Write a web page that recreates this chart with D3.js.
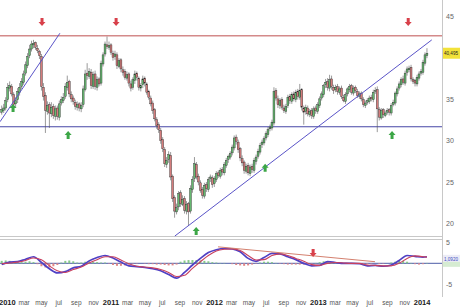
<!DOCTYPE html>
<html>
<head>
<meta charset="utf-8">
<script src="https://cdn.jsdelivr.net/npm/d3@7"></script>
<style>
body{margin:0;background:#fff}
svg{display:block}
text{font-family:"Liberation Sans",Arial,sans-serif}
</style>
</head>
<body>
<script>
var w = 460, h = 308;
var plotRight = 442;

// weekly candles, first one on monday 14 dec 2009
var firstWeek = new Date(2009, 11, 14);

var open = [33.4,33.6,33.9,34.9,36.3,36.5,35.5,34.4,34.9,35.8,
 36.5,37.0,38.1,39.0,40.2,41.0,41.5,41.8,41.1,40.7,
 40.1,36.4,35.4,33.5,34.3,33.2,34.1,32.9,33.9,32.8,
 34.5,34.8,35.3,36.4,37.1,35.5,35.1,34.6,34.0,34.4,
 33.8,34.3,36.1,38.1,37.7,38.2,36.5,38.0,36.4,37.4,
 36.9,39.2,40.4,41.5,41.2,41.5,40.5,40.1,40.3,38.9,
 39.7,38.5,38.3,37.5,38.0,36.8,36.4,37.2,38.1,37.5,
 36.3,36.7,37.5,36.8,35.9,35.1,34.5,33.7,32.5,31.9,
 31.2,30.1,28.9,27.1,27.7,28.2,25.7,23.1,21.4,22.0,
 23.7,22.3,23.0,21.5,22.4,21.5,24.1,25.4,27.1,25.7,
 24.9,24.1,23.3,24.7,24.1,25.4,25.5,24.8,25.3,26.1,
 25.7,26.5,26.1,27.0,27.7,28.0,28.5,29.1,30.4,29.8,
 29.0,27.8,27.4,26.3,27.0,26.0,26.9,26.4,27.5,28.1,
 28.6,29.5,29.7,30.3,30.7,31.4,31.5,32.1,36.0,35.0,
 34.2,34.9,33.9,33.5,34.2,35.3,34.7,35.6,34.9,35.9,
 35.2,36.1,33.9,33.5,33.9,33.1,33.6,32.9,33.9,33.5,
 34.2,35.1,35.5,36.7,37.1,36.3,37.4,36.4,36.1,36.5,
 35.8,36.3,35.2,34.7,35.6,36.1,36.6,35.7,36.4,35.9,
 35.3,35.7,34.9,34.2,34.6,34.7,35.2,34.9,35.9,36.1,
 33.7,32.7,33.7,33.0,33.4,33.7,33.3,34.3,34.5,35.6,
 36.3,36.7,37.4,36.9,38.2,38.5,38.8,37.3,37.2,36.8,
 37.5,38.1,38.2,39.3,40.2];

var high = [34.2,34.4,35.2,36.9,37.1,36.8,35.8,35.2,36.3,36.9,
 37.5,38.4,39.5,40.5,41.5,42.0,42.1,41.9,41.5,40.9,
 40.4,36.9,35.8,34.7,34.6,34.6,34.4,34.2,34.2,34.8,
 35.3,35.7,36.9,37.8,37.3,35.9,35.4,34.9,34.7,34.6,
 34.6,36.6,38.5,39.3,38.7,38.6,38.3,38.4,37.7,37.6,
 39.6,40.6,41.9,42.5,41.9,41.7,40.8,40.8,40.6,39.9,
 39.9,38.9,38.6,38.3,38.2,37.2,37.6,38.4,38.3,37.7,
 36.9,37.8,37.7,37.0,36.1,35.4,34.8,33.9,32.8,32.2,
 31.5,30.4,29.2,28.0,28.7,28.6,25.9,23.4,22.4,23.9,
 24.0,23.4,23.3,22.7,22.6,24.6,25.7,28.0,27.4,26.0,
 25.2,24.4,24.9,25.0,25.6,25.9,25.8,25.7,26.3,26.4,
 26.7,26.8,27.4,27.9,28.3,28.7,29.5,30.6,30.7,30.1,
 29.2,28.2,27.6,27.2,27.3,27.1,27.2,27.9,28.3,29.0,
 29.7,30.1,30.5,31.1,31.6,31.9,32.5,36.4,36.3,35.4,
 35.1,35.2,34.3,34.4,35.5,35.6,35.8,35.9,36.1,36.2,
 36.8,36.3,34.2,34.3,34.2,33.8,33.9,34.1,34.2,34.6,
 35.3,35.9,36.8,37.4,37.5,37.9,37.8,36.7,36.7,36.8,
 36.5,36.6,35.5,35.8,36.4,36.8,36.8,36.6,36.6,36.2,
 35.9,35.9,35.2,34.8,35.1,35.4,35.5,36.1,36.4,36.5,
 34.0,33.9,33.9,33.6,33.9,33.9,34.5,34.9,35.9,36.5,
 37.1,37.6,37.8,38.4,38.9,39.0,39.1,37.6,37.4,37.9,
 38.3,38.6,39.7,40.6,41.1];

var low = [33.1,33.3,33.6,34.6,35.9,35.3,34.0,34.0,34.5,35.4,
 36.2,36.7,37.8,38.7,39.9,40.7,41.1,40.9,40.5,39.8,
 36.0,34.8,30.9,33.1,31.5,32.8,32.6,32.4,32.5,32.4,
 34.2,34.5,35.0,36.0,35.2,34.6,34.3,33.7,33.6,33.5,
 33.4,34.0,35.9,37.3,37.4,36.2,36.2,36.1,36.0,36.5,
 36.6,38.9,40.1,41.0,40.9,40.3,39.6,39.7,38.6,38.7,
 38.2,37.8,37.3,37.2,36.5,35.9,36.1,36.8,37.2,36.0,
 35.9,36.3,36.5,35.5,34.9,34.1,33.2,32.3,31.4,30.9,
 29.6,28.6,26.8,26.7,27.3,25.2,22.6,20.7,21.1,21.6,
 22.0,22.1,21.2,21.1,19.7,21.2,23.7,25.0,25.3,24.6,
 23.7,23.0,23.0,23.8,23.8,25.0,24.3,24.4,25.0,25.5,
 25.4,25.8,25.8,26.7,27.3,27.7,28.2,28.8,29.5,28.5,
 27.5,26.9,26.0,26.0,25.8,25.7,26.1,26.1,27.1,27.8,
 28.3,29.1,29.4,30.0,30.4,31.1,31.2,31.8,34.8,33.9,
 33.8,33.7,33.3,33.2,33.9,34.4,34.4,34.7,34.6,34.9,
 34.9,33.6,31.9,33.1,32.9,32.8,32.6,32.6,33.2,33.2,
 33.9,34.8,35.2,36.3,36.0,35.9,36.1,35.6,35.8,35.5,
 35.5,35.0,34.6,34.4,35.3,35.8,35.5,35.4,35.7,35.1,
 35.0,34.7,34.0,33.9,34.3,34.4,34.7,34.6,35.6,31.0,
 32.4,32.5,32.7,32.8,33.1,33.0,33.0,34.1,34.2,35.3,
 36.0,36.4,36.7,36.6,37.8,38.2,37.1,36.8,36.5,36.5,
 37.2,37.8,37.9,39.0,39.9];

var close = [33.7,33.9,34.8,36.4,36.6,35.6,34.3,34.8,35.9,36.4,
 37.1,38.0,39.1,40.1,41.0,41.6,41.7,41.2,40.8,40.2,
 36.5,35.3,33.6,34.2,33.3,34.0,33.0,33.8,32.9,34.4,
 34.9,35.2,36.5,37.0,35.6,35.0,34.7,34.1,34.3,33.9,
 34.2,36.2,38.0,37.8,38.3,36.6,37.9,36.5,37.3,36.8,
 39.3,40.3,41.6,41.3,41.4,40.6,40.0,40.4,39.0,39.6,
 38.6,38.2,37.6,37.9,36.9,36.3,37.3,38.0,37.6,36.4,
 36.6,37.4,36.9,35.8,35.2,34.4,33.6,32.6,31.8,31.3,
 30.0,29.0,27.2,27.6,28.3,25.6,23.0,21.5,21.9,23.6,
 22.4,22.9,21.6,22.3,21.4,24.2,25.3,27.2,25.6,25.0,
 24.0,23.4,24.6,24.2,25.3,25.6,24.7,25.4,26.0,25.8,
 26.4,26.2,27.1,27.6,28.1,28.4,29.2,30.3,29.9,28.9,
 27.9,27.3,26.4,26.9,26.1,26.8,26.5,27.6,28.0,28.7,
 29.4,29.8,30.2,30.8,31.3,31.6,32.2,35.9,35.1,34.3,
 34.8,34.0,33.6,34.1,35.2,34.8,35.5,35.0,35.8,35.3,
 36.0,34.0,33.4,34.0,33.2,33.5,33.0,33.8,33.6,34.3,
 35.0,35.6,36.6,37.0,36.4,37.3,36.5,36.0,36.4,35.9,
 36.2,35.3,34.8,35.5,36.2,36.5,35.8,36.3,36.0,35.4,
 35.6,35.0,34.3,34.5,34.8,35.1,35.0,35.8,36.0,33.8,
 32.8,33.6,33.1,33.3,33.6,33.4,34.2,34.6,35.7,36.2,
 36.8,37.3,37.0,38.1,38.6,38.7,37.4,37.1,36.9,37.6,
 38.0,38.3,39.4,40.3,40.495];

// macd + signal read every 4th week (last point = last week)
var macdWeek = [0,4,8,12,16,20,24,28,32,36,40,44,48,52,56,60,64,68,72,76,80,84,88,92,96,
 100,104,108,112,116,120,124,128,132,136,140,144,148,152,156,160,164,168,172,176,180,184,188,
 192,196,200,204,208,212,214];
var macd = [-0.3,0.3,0.4,1.0,1.6,0.2,-1.3,-2.3,-2.0,-1.1,-0.7,0.6,1.4,1.9,1.3,0.3,-0.6,-0.8,-1.0,
 -1.3,-1.8,-2.7,-3.6,-2.2,-0.4,1.2,2.6,3.3,3.6,3.5,2.8,1.2,0.5,1.4,2.4,2.3,1.6,0.9,0.0,-0.6,
 -0.5,0.4,0.2,0.0,0.0,-0.1,-0.6,-0.5,-0.7,-0.4,0.7,1.9,1.7,1.5,1.6];
var signal = [-0.1,0.1,0.3,0.7,1.3,0.9,-0.6,-1.8,-2.2,-1.5,-0.9,0.1,0.9,1.6,1.6,0.8,-0.1,-0.7,-0.9,
 -1.1,-1.5,-2.2,-3.2,-2.9,-1.2,0.4,1.9,3.0,3.4,3.5,3.1,1.9,0.8,0.9,1.9,2.3,1.9,1.2,0.5,-0.3,
 -0.5,0.0,0.2,0.1,0.0,0.0,-0.4,-0.5,-0.6,-0.6,0.0,1.2,1.8,1.6,1.5];
// histogram every 2nd week
var hist = [0.6,0.7,0.6,0.4,0.3,0.3,0.4,0.5,0.3,-0.2,
 -0.7,-1.0,-1.0,-0.7,-0.4,0.2,0.6,0.7,0.5,0.2,
 0.2,0.4,0.5,0.4,0.3,0.2,0.2,-0.1,-0.4,-0.6,
 -0.6,-0.5,-0.3,-0.1,-0.1,0.0,-0.1,-0.2,-0.2,-0.3,
 -0.3,-0.4,-0.5,-0.5,-0.3,0.4,0.7,0.8,0.8,0.8,
 0.7,0.6,0.5,0.3,0.2,0.1,0.1,0.0,-0.2,-0.4,
 -0.5,-0.6,-0.5,-0.3,-0.1,0.2,0.4,0.4,0.3,0.1,
 -0.1,-0.2,-0.3,-0.3,-0.3,-0.3,-0.3,-0.2,-0.1,0.1,
 0.3,0.5,0.5,0.3,0.1,-0.1,-0.1,-0.1,0.0,0.0,
 -0.1,-0.2,-0.2,-0.1,0.0,-0.2,-0.1,0.0,0.2,0.4,
 0.6,0.6,0.4,0.1,-0.2,-0.3,-0.2,0.1];

var priceTicks = [20,25,30,35,45];   // 40 sits under the last price tag
var macdTicks = [-5,5];
var lastPriceLabel = "40,495";
var lastMacdLabel = "1,0920";
var lastMacd = 1.092;
var lastTickDate = new Date(2014,0,1);

var resistance = 42.6, support = 31.65;
var trendLines = [
  {d1:new Date(2009,11,8), v1:32.25, d2:new Date(2010,6,7), v2:42.9},
  {d1:new Date(2011,7,16), v1:18.5, d2:new Date(2014,1,6), v2:42.1}
];
var macdTrend = {d1:new Date(2012,0,15), v1:4.0, d2:new Date(2013,6,21), v2:0.4};
var sellArrows = [
  {d:new Date(2010,4,5), v:44.25},
  {d:new Date(2011,0,21), v:44.25},
  {d:new Date(2013,10,15), v:44.25}
];
var buyArrows = [
  {d:new Date(2010,0,23), v:33.9},
  {d:new Date(2010,7,5), v:30.65},
  {d:new Date(2011,9,30), v:19.1},
  {d:new Date(2012,5,29), v:26.7},
  {d:new Date(2013,8,19), v:30.65}
];
var macdArrows = [{d:new Date(2012,11,15), v:2.5}];

var weekDate = function(i){ return d3.timeDay.offset(firstWeek, 7*i); };

var x = d3.scaleTime()
  .domain([new Date(2009,11,8), new Date(2014,2,14)])
  .range([0, plotRight]);
var y = d3.scaleLinear().domain([18.5, 46.9]).range([236, 0]);
var ym = d3.scaleLinear().domain([-5, 5]).range([284, 242.7]);

var svg = d3.select("body").append("svg")
  .attr("width", w).attr("height", h);

// frame lines
svg.append("line").attr("x1",0).attr("x2",plotRight).attr("y1",236.5).attr("y2",236.5)
  .attr("stroke","#c8c8c8");
svg.append("line").attr("x1",0).attr("x2",plotRight).attr("y1",239.5).attr("y2",239.5)
  .attr("stroke","#c8c8c8");
svg.append("line").attr("x1",plotRight+0.5).attr("x2",plotRight+0.5).attr("y1",0).attr("y2",297)
  .attr("stroke","#c8c8c8");

// horizontal levels
svg.append("line").attr("x1",0).attr("x2",plotRight)
  .attr("y1",y(resistance)).attr("y2",y(resistance))
  .attr("stroke","#d48a8a").attr("stroke-width",1.6);
svg.append("line").attr("x1",0).attr("x2",plotRight)
  .attr("y1",y(support)).attr("y2",y(support))
  .attr("stroke","#4646a6").attr("stroke-width",1.1);

// candles
var idx = d3.range(close.length);
var cw = 1.9;
var candles = svg.append("g");
candles.selectAll("line").data(idx).enter().append("line")
  .attr("x1", function(i){ return x(weekDate(i)); })
  .attr("x2", function(i){ return x(weekDate(i)); })
  .attr("y1", function(i){ return y(high[i]); })
  .attr("y2", function(i){ return y(low[i]); })
  .attr("stroke", "#555").attr("stroke-width", 0.6);
candles.selectAll("rect").data(idx).enter().append("rect")
  .attr("x", function(i){ return x(weekDate(i)) - cw/2; })
  .attr("width", cw)
  .attr("y", function(i){ return y(Math.max(open[i], close[i])); })
  .attr("height", function(i){ return Math.max(0.8, Math.abs(y(open[i]) - y(close[i]))); })
  .attr("fill", function(i){ return close[i] >= open[i] ? "#66b870" : "#d47c7c"; })
  .attr("stroke", "#2a2a2a").attr("stroke-width", 0.4);

// trend lines
svg.selectAll(".trend").data(trendLines).enter().append("line")
  .attr("class","trend")
  .attr("x1", function(d){ return x(d.d1); })
  .attr("y1", function(d){ return y(d.v1); })
  .attr("x2", function(d){ return x(d.d2); })
  .attr("y2", function(d){ return y(d.v2); })
  .attr("stroke", "#5a54c8").attr("stroke-width", 1);

// arrows
function arrow(cx, cy, down){
  var s = down ? 1 : -1;
  return "M"+(cx-1.5)+","+(cy-4*s)+"L"+(cx+1.5)+","+(cy-4*s)+"L"+(cx+1.5)+","+(cy)+
    "L"+(cx+3.5)+","+(cy)+"L"+cx+","+(cy+4*s)+"L"+(cx-3.5)+","+(cy)+"L"+(cx-1.5)+","+(cy)+"Z";
}
svg.selectAll(".sell").data(sellArrows).enter().append("path")
  .attr("d", function(d){ return arrow(x(d.d), y(d.v), true); })
  .attr("fill","#d8404a");
svg.selectAll(".buy").data(buyArrows).enter().append("path")
  .attr("d", function(d){ return arrow(x(d.d), y(d.v), false); })
  .attr("fill","#3ca646");

// right price axis
var ax = svg.append("g").attr("transform","translate("+plotRight+",0)")
  .call(d3.axisRight(y).tickValues(priceTicks).tickSize(0).tickPadding(4));
ax.select(".domain").remove();
ax.selectAll("text").attr("font-size",7).attr("fill","#666")
  .attr("font-family","'Liberation Sans',Arial,sans-serif");

var lastY = y(close[close.length-1]);
svg.append("rect").attr("x",plotRight+1).attr("y",lastY-5.5)
  .attr("width",17).attr("height",11).attr("fill","#f2e23a");
svg.append("text").attr("x",plotRight+2).attr("y",lastY+2)
  .attr("font-size",5.5).attr("fill","#222")
  .attr("textLength",14).attr("lengthAdjust","spacingAndGlyphs")
  .text(lastPriceLabel);

// macd panel
svg.append("line").attr("x1",0).attr("x2",plotRight).attr("y1",ym(0)).attr("y2",ym(0))
  .attr("stroke","#6f7cb8").attr("stroke-width",1.2);

var hg = svg.append("g");
hg.selectAll("rect").data(hist).enter().append("rect")
  .attr("x", function(v,k){ return x(weekDate(2*k)) - 1; })
  .attr("width", 2)
  .attr("y", function(v){ return Math.min(ym(v), ym(0)); })
  .attr("height", function(v){ return Math.abs(ym(v) - ym(0)); })
  .attr("fill", function(v){ return v >= 0 ? "#86c98a" : "#e18686"; });

var line = function(vals){
  return d3.line()
    .x(function(v,k){ return x(weekDate(macdWeek[k])); })
    .y(function(v){ return ym(v); })
    .curve(d3.curveMonotoneX)(vals);
};
svg.append("path").attr("d", line(macd)).attr("fill","none")
  .attr("stroke","#5040c4").attr("stroke-width",1.7);
svg.append("path").attr("d", line(signal)).attr("fill","none")
  .attr("stroke","#c8405e").attr("stroke-width",1.1);

svg.append("line")
  .attr("x1", x(macdTrend.d1)).attr("y1", ym(macdTrend.v1))
  .attr("x2", x(macdTrend.d2)).attr("y2", ym(macdTrend.v2))
  .attr("stroke","#d4806e").attr("stroke-width",1);
svg.selectAll(".marr").data(macdArrows).enter().append("path")
  .attr("d", function(d){ return arrow(x(d.d), ym(d.v), true); })
  .attr("fill","#d8404a");

var am = svg.append("g").attr("transform","translate("+plotRight+",0)")
  .call(d3.axisRight(ym).tickValues(macdTicks).tickSize(0).tickPadding(4)
    .tickFormat(function(d){ return d < 0 ? "-" + Math.abs(d) : d; }));
am.select(".domain").remove();
am.selectAll("text").attr("font-size",7).attr("fill","#666")
  .attr("font-family","'Liberation Sans',Arial,sans-serif");

var macdY = ym(lastMacd);
svg.append("rect").attr("x",plotRight+1).attr("y",macdY+2)
  .attr("width",17).attr("height",6).attr("fill","#d6ecd2");
svg.append("rect").attr("x",plotRight+1).attr("y",macdY-4)
  .attr("width",17).attr("height",7).attr("fill","#ececf6");
svg.append("text").attr("x",plotRight+2).attr("y",macdY+1.8)
  .attr("font-size",5.5).attr("fill","#3a48c0")
  .attr("textLength",14).attr("lengthAdjust","spacingAndGlyphs")
  .text(lastMacdLabel);

// time axis
var fmtYear = d3.timeFormat("%Y"), fmtMonth = d3.timeFormat("%b");
var timeTicks = x.ticks(d3.timeMonth.every(2)).filter(function(d){ return d <= lastTickDate; });
var xa = svg.append("g").attr("transform","translate(0,297)")
  .call(d3.axisBottom(x).tickValues(timeTicks).tickSize(0).tickPadding(3)
    .tickFormat(function(d){ return d.getMonth() === 0 ? fmtYear(d) : fmtMonth(d).toLowerCase(); }));
xa.select(".domain").remove();
xa.selectAll("text")
  .attr("font-family","'Liberation Sans',Arial,sans-serif")
  .attr("font-size", function(d){ return d.getMonth() === 0 ? 7.5 : 6.5; })
  .attr("font-weight", function(d){ return d.getMonth() === 0 ? "bold" : "normal"; })
  .attr("fill", function(d){ return d.getMonth() === 0 ? "#222" : "#555"; });
</script>
</body>
</html>
